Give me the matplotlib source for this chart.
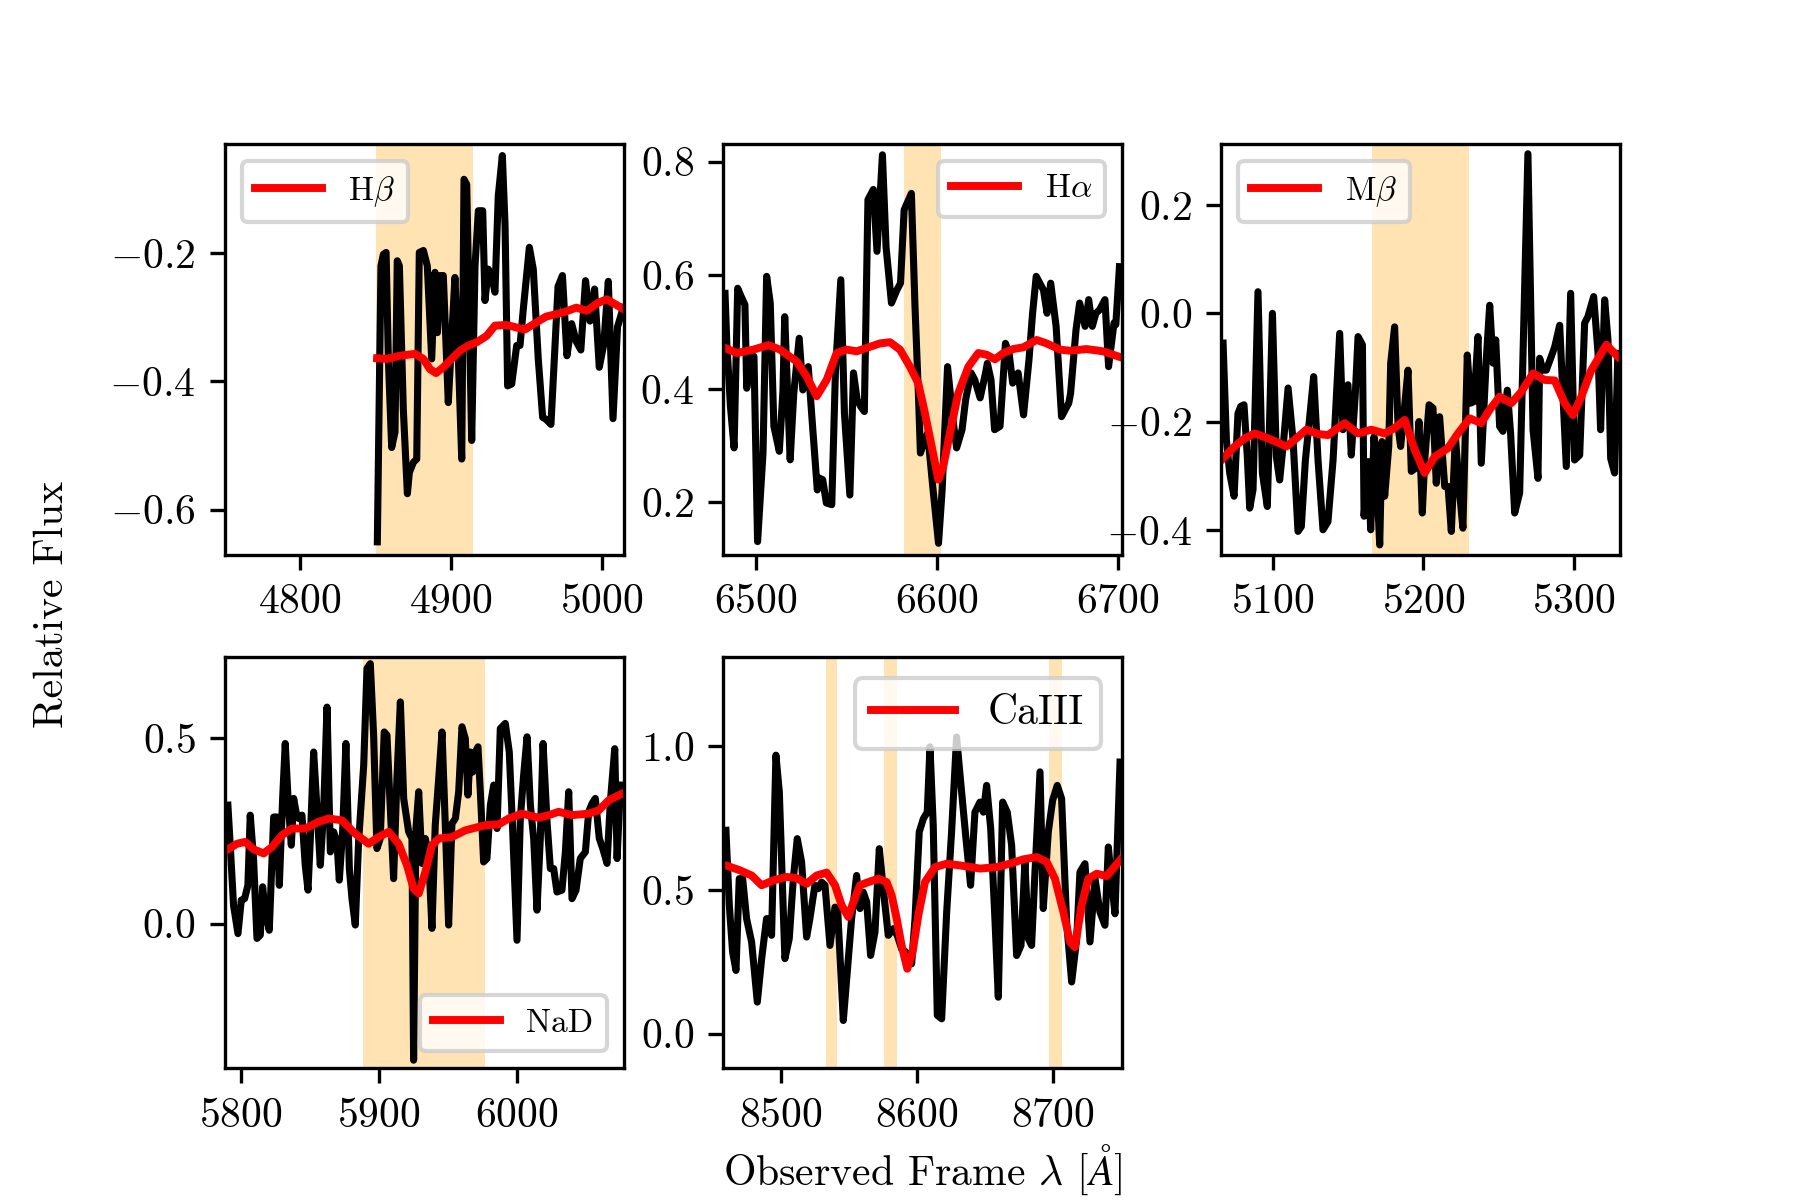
import numpy as np
import matplotlib
matplotlib.use("Agg")
import matplotlib.pyplot as plt
from matplotlib.ticker import MultipleLocator

plt.rcParams['font.family'] = 'serif'
plt.rcParams['font.serif'] = ['cmr10']
plt.rcParams['mathtext.fontset'] = 'cm'
plt.rcParams['axes.formatter.use_mathtext'] = True
plt.rcParams['axes.unicode_minus'] = True

# ---- H beta ----
wl_hb = [4851.2, 4853.6, 4855.2, 4857.0, 4858.5, 4860.7, 4862.9, 4864.4, 4865.8, 4868.4,
         4871.1, 4872.4, 4875.1, 4877.3, 4879.0, 4881.7, 4884.3, 4887.2, 4889.4, 4891.0,
         4892.7, 4894.9, 4898.2, 4900.4, 4902.6, 4904.9, 4907.1, 4908.6, 4910.4, 4913.7,
         4915.9, 4918.1, 4921.0, 4922.5, 4924.7, 4926.9, 4929.1, 4931.3, 4934.0, 4935.8,
         4937.5, 4940.2, 4943.5, 4945.7, 4947.9, 4951.9, 4954.5, 4957.8, 4960.7, 4962.9,
         4966.2, 4970.9, 4973.8, 4976.8, 4979.9, 4983.0, 4986.0, 4989.1, 4992.1, 4995.1,
         4998.2, 5001.2, 5004.2, 5007.3, 5010.3, 5014.1]
flux_hb = [-0.650, -0.220, -0.202, -0.199, -0.365, -0.503, -0.479, -0.212, -0.220, -0.443,
           -0.575, -0.542, -0.526, -0.521, -0.199, -0.196, -0.220, -0.365, -0.230, -0.324,
           -0.235, -0.235, -0.433, -0.334, -0.238, -0.365, -0.521, -0.085, -0.093, -0.492,
           -0.220, -0.134, -0.134, -0.274, -0.225, -0.235, -0.261, -0.111, -0.048, -0.157,
           -0.407, -0.404, -0.344, -0.344, -0.287, -0.191, -0.225, -0.365, -0.456, -0.459,
           -0.467, -0.252, -0.235, -0.360, -0.310, -0.338, -0.351, -0.243, -0.306, -0.256,
           -0.378, -0.342, -0.244, -0.458, -0.315, -0.285]
wl_hb_fit = [4851.0, 4857.4, 4866.2, 4876.2, 4881.7, 4886.1, 4890.1, 4894.9, 4900.4, 4906.0,
             4911.5, 4917.0, 4923.6, 4929.1, 4936.9, 4943.5, 4949.0, 4954.5, 4962.9, 4975.0,
             4983.0, 4990.0, 4997.0, 5003.0, 5009.0, 5014.0]
fit_hb = [-0.364, -0.365, -0.360, -0.357, -0.365, -0.381, -0.387, -0.378, -0.365, -0.352,
          -0.344, -0.339, -0.329, -0.313, -0.312, -0.316, -0.319, -0.311, -0.299, -0.292,
          -0.285, -0.290, -0.278, -0.272, -0.280, -0.287]

# ---- H alpha ----
wl_ha = [6483, 6484, 6486, 6488, 6490, 6492, 6494, 6495, 6497, 6499,
         6501, 6504, 6506, 6508, 6510, 6513, 6515, 6516, 6519, 6521,
         6524, 6526, 6529, 6531, 6534, 6535, 6537, 6539, 6542, 6544,
         6547, 6549, 6552, 6554, 6556, 6558, 6560, 6562, 6565, 6567,
         6570, 6572, 6575, 6578, 6580, 6582, 6586, 6588, 6590, 6591,
         6593, 6595, 6598, 6601, 6603, 6606, 6609, 6611, 6614, 6616,
         6619, 6621, 6624, 6627, 6628, 6630, 6632, 6635, 6638, 6640,
         6642, 6645, 6648, 6651, 6653, 6655, 6659, 6661, 6663, 6666,
         6669, 6673, 6674, 6677, 6679, 6682, 6684, 6686, 6688, 6690,
         6693, 6695, 6698, 6699, 6701]
flux_ha = [0.568, 0.480, 0.369, 0.296, 0.577, 0.562, 0.548, 0.401, 0.457, 0.457,
           0.131, 0.287, 0.598, 0.551, 0.334, 0.290, 0.395, 0.527, 0.275, 0.392,
           0.489, 0.398, 0.439, 0.351, 0.222, 0.243, 0.240, 0.199, 0.196, 0.428,
           0.592, 0.357, 0.213, 0.428, 0.381, 0.369, 0.360, 0.733, 0.751, 0.642,
           0.812, 0.650, 0.551, 0.574, 0.586, 0.715, 0.744, 0.545, 0.381, 0.287,
           0.307, 0.322, 0.222, 0.128, 0.222, 0.439, 0.345, 0.296, 0.328, 0.381,
           0.428, 0.416, 0.384, 0.428, 0.445, 0.416, 0.328, 0.334, 0.480, 0.463,
           0.410, 0.428, 0.354, 0.451, 0.533, 0.598, 0.574, 0.533, 0.586, 0.510,
           0.351, 0.375, 0.392, 0.504, 0.551, 0.510, 0.557, 0.510, 0.533, 0.539,
           0.557, 0.439, 0.516, 0.513, 0.615]
wl_ha_fit = [6483.0, 6489.5, 6498.7, 6507.0, 6513.4, 6522.6, 6528.1, 6533.7, 6539.2, 6544.7,
             6550.2, 6555.8, 6563.1, 6568.7, 6574.2, 6579.7, 6585.2, 6589.8, 6593.5, 6597.2,
             6600.9, 6603.6, 6607.3, 6611.9, 6617.5, 6623.0, 6627.6, 6632.2, 6636.8, 6642.3,
             6647.8, 6655.2, 6660.7, 6668.1, 6673.6, 6682.8, 6692.0, 6701.3]
fit_ha = [0.472, 0.463, 0.469, 0.477, 0.469, 0.448, 0.422, 0.387, 0.416, 0.463,
          0.469, 0.466, 0.474, 0.480, 0.482, 0.469, 0.439, 0.410, 0.357, 0.299,
          0.240, 0.263, 0.322, 0.392, 0.439, 0.463, 0.460, 0.452, 0.463, 0.470,
          0.473, 0.486, 0.480, 0.469, 0.467, 0.470, 0.466, 0.456]

# ---- M beta ----
wl_mb = [5066.8, 5069.0, 5071.2, 5074.1, 5076.7, 5078.5, 5080.7, 5082.9, 5084.5, 5086.7,
         5090.0, 5092.9, 5096.2, 5099.6, 5102.2, 5104.4, 5107.1, 5110.0, 5113.3, 5116.6,
         5118.8, 5121.5, 5124.4, 5127.0, 5129.9, 5133.2, 5136.5, 5139.9, 5144.3, 5146.5,
         5149.8, 5152.0, 5154.7, 5156.5, 5159.4, 5160.5, 5163.1, 5164.9, 5167.1, 5168.7,
         5170.9, 5172.4, 5174.2, 5176.9, 5178.2, 5180.8, 5183.1, 5184.8, 5187.0, 5189.7,
         5191.9, 5194.8, 5197.0, 5199.2, 5200.8, 5203.7, 5206.3, 5208.5, 5210.7, 5214.1,
         5216.3, 5218.5, 5221.2, 5224.0, 5226.2, 5229.1, 5231.3, 5233.6, 5236.2, 5238.4,
         5241.7, 5244.0, 5246.2, 5248.0, 5250.6, 5252.8, 5255.7, 5257.9, 5260.6, 5263.9,
         5269.4, 5272.8, 5276.1, 5277.2, 5279.4, 5281.6, 5284.9, 5287.2, 5290.5, 5294.9,
         5297.8, 5300.4, 5303.8, 5307.1, 5309.3, 5313.1, 5316.0, 5317.7, 5320.4, 5322.6,
         5324.4, 5327.0, 5329.2]
flux_mb = [-0.055, -0.234, -0.295, -0.338, -0.185, -0.172, -0.169, -0.265, -0.360, -0.326,
           0.040, -0.295, -0.357, 0.000, -0.265, -0.308, -0.234, -0.138, -0.234, -0.403,
           -0.394, -0.271, -0.191, -0.117, -0.271, -0.400, -0.385, -0.271, -0.037, -0.215,
           -0.132, -0.262, -0.148, -0.043, -0.058, -0.375, -0.274, -0.400, -0.228, -0.295,
           -0.428, -0.237, -0.338, -0.246, -0.092, -0.025, -0.209, -0.246, -0.185, -0.105,
           -0.292, -0.286, -0.200, -0.369, -0.271, -0.169, -0.175, -0.314, -0.191, -0.320,
           -0.320, -0.403, -0.228, -0.332, -0.397, -0.077, -0.166, -0.163, -0.043, -0.277,
           -0.086, 0.015, -0.092, -0.049, -0.209, -0.218, -0.142, -0.222, -0.369, -0.332,
           0.295, -0.215, -0.305, -0.083, -0.105, -0.105, -0.080, -0.062, -0.022, -0.283,
           0.037, -0.271, -0.262, -0.018, -0.006, 0.031, -0.074, -0.215, 0.025, -0.049,
           -0.268, -0.295, -0.074]
wl_mb_fit = [5066.8, 5074.5, 5081.2, 5087.8, 5096.7, 5108.9, 5115.5, 5122.1, 5129.9, 5136.5,
             5147.6, 5156.5, 5165.3, 5174.2, 5180.8, 5187.5, 5194.1, 5200.8, 5207.4, 5216.3,
             5222.9, 5230.7, 5238.4, 5244.0, 5250.6, 5258.4, 5265.0, 5272.8, 5280.5, 5287.2,
             5293.8, 5299.3, 5304.9, 5311.5, 5321.5, 5329.2]
fit_mb = [-0.268, -0.246, -0.231, -0.222, -0.231, -0.246, -0.231, -0.215, -0.223, -0.225,
          -0.203, -0.222, -0.215, -0.222, -0.212, -0.197, -0.252, -0.295, -0.265, -0.249,
          -0.222, -0.194, -0.203, -0.178, -0.154, -0.166, -0.145, -0.111, -0.123, -0.124,
          -0.166, -0.188, -0.154, -0.105, -0.058, -0.080]

# ---- NaD ----
wl_nad = [5790.3, 5792.0, 5794.4, 5797.6, 5800.0, 5802.4, 5804.8, 5806.5, 5808.9, 5811.4,
          5813.8, 5815.5, 5817.4, 5820.3, 5823.5, 5825.9, 5827.6, 5830.0, 5831.9, 5834.3,
          5836.3, 5838.0, 5839.7, 5841.6, 5844.0, 5846.4, 5848.4, 5850.1, 5852.5, 5854.9,
          5857.3, 5859.7, 5862.2, 5864.6, 5867.0, 5869.4, 5871.1, 5873.5, 5875.9, 5878.4,
          5880.3, 5882.7, 5885.1, 5888.8, 5891.2, 5893.6, 5896.0, 5898.4, 5900.8, 5903.7,
          5905.7, 5908.1, 5910.5, 5912.9, 5915.4, 5917.8, 5921.4, 5923.8, 5925.0, 5926.7,
          5928.7, 5931.1, 5933.5, 5935.9, 5938.3, 5940.7, 5943.2, 5945.6, 5948.0, 5950.4,
          5952.8, 5955.3, 5957.7, 5960.1, 5962.5, 5964.4, 5966.1, 5967.8, 5969.8, 5971.7,
          5973.4, 5975.8, 5978.2, 5980.7, 5983.1, 5985.5, 5987.9, 5991.5, 5994.4, 5996.9,
          6000.0, 6002.4, 6004.8, 6007.3, 6009.7, 6012.1, 6014.5, 6016.9, 6018.9, 6021.8,
          6024.2, 6026.6, 6029.0, 6032.6, 6035.1, 6037.5, 6039.9, 6042.8, 6045.9, 6049.6,
          6052.0, 6054.4, 6056.8, 6059.7, 6062.2, 6065.3, 6067.7, 6070.9, 6072.6, 6075.0]
flux_nad = [0.319, 0.211, 0.049, -0.027, 0.063, 0.067, 0.103, 0.292, 0.175, -0.040,
            -0.031, 0.099, 0.031, -0.018, 0.287, 0.287, 0.103, 0.337, 0.485, 0.310,
            0.211, 0.337, 0.301, 0.283, 0.292, 0.157, 0.090, 0.229, 0.462, 0.310,
            0.157, 0.301, 0.583, 0.193, 0.247, 0.220, 0.117, 0.247, 0.485, 0.148,
            0.067, -0.004, 0.220, 0.426, 0.687, 0.700, 0.507, 0.202, 0.229, 0.516,
            0.507, 0.310, 0.121, 0.390, 0.597, 0.337, 0.247, 0.229, -0.368, 0.256,
            0.355, 0.162, 0.229, 0.184, -0.013, 0.265, 0.390, 0.516, 0.265, -0.004,
            0.269, 0.283, 0.355, 0.530, 0.498, 0.346, 0.462, 0.408, 0.462, 0.476,
            0.355, 0.166, 0.175, 0.319, 0.373, 0.256, 0.525, 0.539, 0.462, 0.247,
            -0.045, 0.283, 0.399, 0.503, 0.319, 0.229, 0.036, 0.229, 0.485, 0.274,
            0.148, 0.148, 0.085, 0.090, 0.193, 0.355, 0.067, 0.090, 0.175, 0.193,
            0.301, 0.323, 0.337, 0.229, 0.202, 0.162, 0.328, 0.471, 0.175, 0.373]
wl_nad_fit = [5790.3, 5796.9, 5802.9, 5808.9, 5816.2, 5822.2, 5829.5, 5836.8, 5846.4, 5856.1,
              5863.4, 5873.0, 5882.7, 5892.4, 5899.6, 5906.9, 5914.1, 5920.2, 5925.0, 5928.7,
              5933.5, 5938.3, 5943.2, 5952.8, 5962.5, 5977.0, 5986.7, 5994.0, 6003.6, 6015.7,
              6023.0, 6030.2, 6039.9, 6052.0, 6059.3, 6066.5, 6076.2]
fit_nad = [0.200, 0.215, 0.220, 0.200, 0.189, 0.206, 0.238, 0.256, 0.256, 0.274,
           0.283, 0.278, 0.242, 0.215, 0.233, 0.247, 0.215, 0.157, 0.094, 0.081,
           0.139, 0.211, 0.229, 0.233, 0.251, 0.265, 0.267, 0.283, 0.296, 0.285,
           0.292, 0.301, 0.292, 0.296, 0.305, 0.332, 0.350]

# ---- CaIII ----
wl_ca = [8459.5, 8462.0, 8464.4, 8466.9, 8469.3, 8471.8, 8474.7, 8478.4, 8482.6, 8485.8,
         8489.4, 8491.9, 8493.1, 8496.3, 8498.8, 8502.9, 8506.1, 8509.1, 8512.0, 8515.2,
         8518.9, 8521.3, 8525.0, 8527.5, 8529.9, 8532.4, 8536.1, 8539.8, 8541.7, 8545.9,
         8548.8, 8552.0, 8555.7, 8558.2, 8560.6, 8563.1, 8566.0, 8569.2, 8572.4, 8575.3,
         8579.0, 8582.7, 8585.6, 8588.8, 8592.0, 8596.2, 8598.7, 8601.8, 8604.8, 8607.7,
         8609.7, 8612.1, 8615.1, 8618.3, 8622.0, 8625.6, 8629.3, 8632.3, 8636.2, 8639.6,
         8642.8, 8646.5, 8649.0, 8651.4, 8654.4, 8657.5, 8660.0, 8663.2, 8666.6, 8669.8,
         8673.5, 8676.7, 8679.6, 8682.1, 8684.5, 8687.0, 8690.7, 8693.1, 8696.8, 8700.0,
         8703.4, 8706.6, 8710.3, 8714.0, 8717.7, 8720.1, 8723.8, 8727.5, 8731.2, 8734.8,
         8738.5, 8741.0, 8743.4, 8745.9, 8749.6]
flux_ca = [0.707, 0.446, 0.284, 0.220, 0.539, 0.539, 0.400, 0.319, 0.110, 0.261,
           0.400, 0.400, 0.342, 0.968, 0.840, 0.261, 0.330, 0.539, 0.678, 0.597,
           0.336, 0.400, 0.516, 0.504, 0.527, 0.516, 0.307, 0.440, 0.435, 0.046,
           0.214, 0.400, 0.550, 0.435, 0.492, 0.458, 0.272, 0.353, 0.643, 0.504,
           0.342, 0.365, 0.342, 0.295, 0.284, 0.243, 0.400, 0.701, 0.747, 0.770,
           0.997, 0.724, 0.064, 0.052, 0.423, 0.701, 1.031, 0.875, 0.678, 0.516,
           0.770, 0.805, 0.770, 0.863, 0.713, 0.400, 0.127, 0.805, 0.770, 0.655,
           0.272, 0.307, 0.597, 0.330, 0.307, 0.562, 0.910, 0.435, 0.701, 0.811,
           0.863, 0.817, 0.388, 0.180, 0.330, 0.562, 0.591, 0.319, 0.539, 0.423,
           0.377, 0.649, 0.527, 0.417, 0.944]
wl_ca_fit = [8459.5, 8469.8, 8478.4, 8485.8, 8494.4, 8504.2, 8511.5, 8518.9, 8526.3, 8533.6,
             8539.8, 8544.7, 8549.6, 8553.3, 8558.2, 8564.3, 8571.7, 8577.8, 8581.5, 8585.2,
             8588.8, 8593.0, 8596.9, 8601.1, 8606.0, 8613.4, 8622.0, 8631.8, 8646.5, 8658.8,
             8668.6, 8678.4, 8688.2, 8695.6, 8701.7, 8707.9, 8712.8, 8716.4, 8721.3, 8726.3,
             8732.4, 8739.8, 8749.6]
fit_ca = [0.585, 0.568, 0.550, 0.516, 0.533, 0.545, 0.541, 0.521, 0.550, 0.560,
          0.516, 0.446, 0.406, 0.458, 0.516, 0.527, 0.539, 0.527, 0.481, 0.400,
          0.307, 0.226, 0.284, 0.411, 0.527, 0.579, 0.591, 0.585, 0.574, 0.579,
          0.591, 0.606, 0.614, 0.597, 0.539, 0.423, 0.319, 0.301, 0.446, 0.539,
          0.556, 0.548, 0.603]

# fitting windows (shaded)
win_hb = [(4850.3, 4914.4)]
win_ha = [(6582.1, 6602.2)]
win_mb = [(5165.8, 5230.0)]
win_nad = [(5888.5, 5976.6)]
win_ca = [(8533.1, 8541.4), (8576.1, 8585.4), (8697.5, 8706.6)]

panels = [
    # label, wl, flux, wl fit, fit, windows, xlim, ylim, ystep, legend loc, legend size
    (r'H$\beta$', wl_hb, flux_hb, wl_hb_fit, fit_hb, win_hb, (4750.3, 5014.3), (-0.670, -0.030), 0.2, 'upper left', 8),
    (r'H$\alpha$', wl_ha, flux_ha, wl_ha_fit, fit_ha, win_ha, (6482.0, 6702.3), (0.108, 0.831), 0.2, 'upper right', 8),
    (r'M$\beta$', wl_mb, flux_mb, wl_mb_fit, fit_mb, win_mb, (5065.7, 5330.6), (-0.446, 0.313), 0.2, 'upper left', 8),
    ('NaD', wl_nad, flux_nad, wl_nad_fit, fit_nad, win_nad, (5788.2, 6077.3), (-0.389, 0.717), 0.5, 'lower right', 8),
    ('CaIII', wl_ca, flux_ca, wl_ca_fit, fit_ca, win_ca, (8457.5, 8750.9), (-0.119, 1.308), 0.5, 'upper right', 10),
]

fig, axes = plt.subplots(2, 3, figsize=(6, 4), dpi=300)
fig.subplots_adjust(left=0.125, right=0.9, bottom=0.11, top=0.88, wspace=0.25, hspace=0.25)
axes = axes.ravel()

for ax, (label, wl, flux, wlf, fit, wins, xl, yl, ystep, loc, lsize) in zip(axes, panels):
    for lo, hi in wins:
        ax.axvspan(lo, hi, color='orange', alpha=0.3, lw=0)
    ax.plot(wl, flux, color='black', lw=1.7)
    ax.plot(wlf, fit, color='red', lw=1.9, label=label)
    ax.set_xlim(*xl)
    ax.set_ylim(*yl)
    ax.xaxis.set_major_locator(MultipleLocator(100))
    ax.yaxis.set_major_locator(MultipleLocator(ystep))
    ax.tick_params(labelsize=10)
    ax.legend(loc=loc, fontsize=lsize)

axes[5].axis('off')

axes[4].set_xlabel(r'Observed Frame $\lambda$ [$\AA$]', fontsize=10, labelpad=2)
fig.text(0.029, 0.496, 'Relative Flux', rotation=90, va='center', ha='center', fontsize=10)

fig.savefig('out.png', dpi=300)
